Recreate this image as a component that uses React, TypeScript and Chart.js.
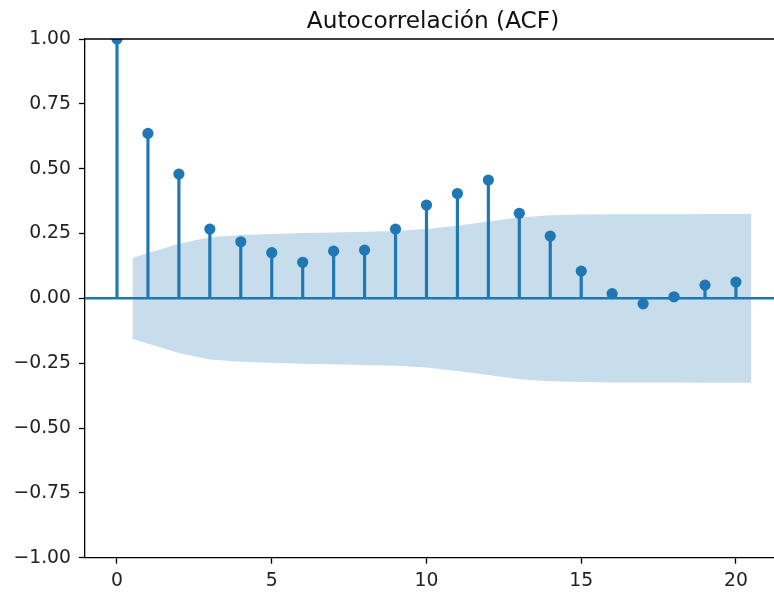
import { useEffect, useRef } from "react";
import { Chart, registerables } from "chart.js";

Chart.register(...registerables);

// Autocorrelation by lag
const lags = [0, 1, 2, 3, 4, 5, 6, 7, 8, 9, 10, 11, 12, 13, 14, 15, 16, 17, 18, 19, 20];
const acfValues = [
  1.0, 0.636, 0.479, 0.267, 0.218, 0.176, 0.139, 0.182, 0.186, 0.267, 0.36,
  0.404, 0.456, 0.328, 0.24, 0.105, 0.018, -0.021, 0.006, 0.051, 0.063,
];

// 95% confidence band (first and last lag widened by half a step)
const bandLags = [0.5, 2, 3, 4, 5, 6, 7, 8, 9, 10, 11, 12, 13, 14, 15, 16, 17, 18, 19, 20.5];
const bandUpper = [
  0.157, 0.211, 0.236, 0.244, 0.248, 0.252, 0.254, 0.257, 0.26, 0.267, 0.28,
  0.296, 0.312, 0.32, 0.323, 0.324, 0.324, 0.324, 0.325, 0.325,
];
const bandLower = [
  -0.157, -0.211, -0.236, -0.244, -0.248, -0.252, -0.254, -0.257, -0.26, -0.267, -0.28,
  -0.296, -0.312, -0.32, -0.323, -0.324, -0.324, -0.324, -0.325, -0.325,
];

const xTicks = [0, 5, 10, 15, 20];
const yTicks = [-1, -0.75, -0.5, -0.25, 0, 0.25, 0.5, 0.75, 1];

const TITLE = "Autocorrelación (ACF)";
const X_MIN = -1.034;
const X_MAX = 21.23;

const C0 = "#1f77b4";
const FONT = '"DejaVu Sans", sans-serif';

const fmt = (v: number) => (v < 0 ? "\u2212" + Math.abs(v).toFixed(2) : v.toFixed(2));

// Top spine and axes title
const framePlugin = {
  id: "frame",
  afterDraw(chart: any) {
    const { ctx, chartArea } = chart;
    ctx.save();
    ctx.strokeStyle = "#000";
    ctx.lineWidth = 1.3;
    ctx.beginPath();
    ctx.moveTo(chartArea.left - 0.65, chartArea.top);
    ctx.lineTo(chartArea.right, chartArea.top);
    ctx.stroke();
    ctx.font = `23.2px ${FONT}`;
    ctx.fillStyle = "#111";
    ctx.textAlign = "center";
    ctx.textBaseline = "alphabetic";
    ctx.fillText(TITLE, 433, 27.5);
    ctx.restore();
  },
};

export default function App() {
  const canvasRef = useRef<HTMLCanvasElement | null>(null);

  useEffect(() => {
    if (!canvasRef.current) return;
    const chart = new Chart(canvasRef.current, {
      type: "scatter",
      data: {
        datasets: [
          {
            type: "line",
            data: bandLags.map((x, i) => ({ x, y: bandUpper[i] })),
            borderWidth: 0,
            pointRadius: 0,
            backgroundColor: "rgba(31,119,180,0.25)",
            fill: "+1",
            tension: 0,
            order: 5,
          },
          {
            type: "line",
            data: bandLags.map((x, i) => ({ x, y: bandLower[i] })),
            borderWidth: 0,
            pointRadius: 0,
            backgroundColor: "rgba(31,119,180,0.25)",
            fill: false,
            tension: 0,
            order: 5,
          },
          {
            type: "bar",
            data: lags.map((x, i) => ({ x, y: acfValues[i] })),
            backgroundColor: C0,
            borderWidth: 0,
            barThickness: 2.5,
            order: 3,
          },
          {
            type: "line",
            data: [
              { x: X_MIN, y: 0 },
              { x: X_MAX, y: 0 },
            ],
            borderColor: C0,
            borderWidth: 2.5,
            pointRadius: 0,
            fill: false,
            order: 2,
          },
          {
            type: "scatter",
            data: lags.map((x, i) => ({ x, y: acfValues[i] })),
            backgroundColor: C0,
            borderWidth: 0,
            pointRadius: 5.6,
            clip: 0,
            order: 1,
          },
        ],
      },
      options: {
        animation: false,
        responsive: true,
        maintainAspectRatio: false,
        events: [],
        layout: { autoPadding: false, padding: { top: 39, left: 0, right: 0, bottom: 0 } },
        plugins: {
          legend: { display: false },
          tooltip: { enabled: false },
          title: { display: false },
        },
        scales: {
          x: {
            type: "linear",
            min: X_MIN,
            max: X_MAX,
            offset: false,
            afterBuildTicks: (scale: any) => {
              scale.ticks = xTicks.map((value) => ({ value }));
            },
            afterFit: (scale: any) => {
              scale.height = 34.3;
              scale.paddingLeft = 0;
              scale.paddingRight = 0;
            },
            grid: {
              offset: false,
              drawOnChartArea: false,
              drawTicks: true,
              tickLength: 6,
              tickColor: "#000",
              tickWidth: 1.3,
            },
            border: { display: true, color: "#000", width: 1.3 },
            ticks: {
              padding: 6,
              color: "#222",
              font: { family: FONT, size: 18.8 },
              maxRotation: 0,
              autoSkip: false,
              callback: (v: any) => String(v),
            },
          },
          y: {
            type: "linear",
            min: -1,
            max: 1,
            afterBuildTicks: (scale: any) => {
              scale.ticks = yTicks.map((value) => ({ value }));
            },
            afterFit: (scale: any) => {
              scale.width = 85;
              scale.paddingTop = 0;
              scale.paddingBottom = 0;
            },
            grid: {
              drawOnChartArea: false,
              drawTicks: true,
              tickLength: 6,
              tickColor: "#000",
              tickWidth: 1.3,
            },
            border: { display: true, color: "#000", width: 1.3 },
            ticks: {
              padding: 8,
              color: "#222",
              font: { family: FONT, size: 18.8 },
              autoSkip: false,
              callback: (v: any) => fmt(Number(v)),
            },
          },
        },
      },
      plugins: [framePlugin],
    } as any);
    return () => chart.destroy();
  }, []);

  return (
    <div style={{ position: "fixed", left: 0, top: 0, width: 774, height: 592, background: "#fff" }}>
      <canvas ref={canvasRef} />
    </div>
  );
}
